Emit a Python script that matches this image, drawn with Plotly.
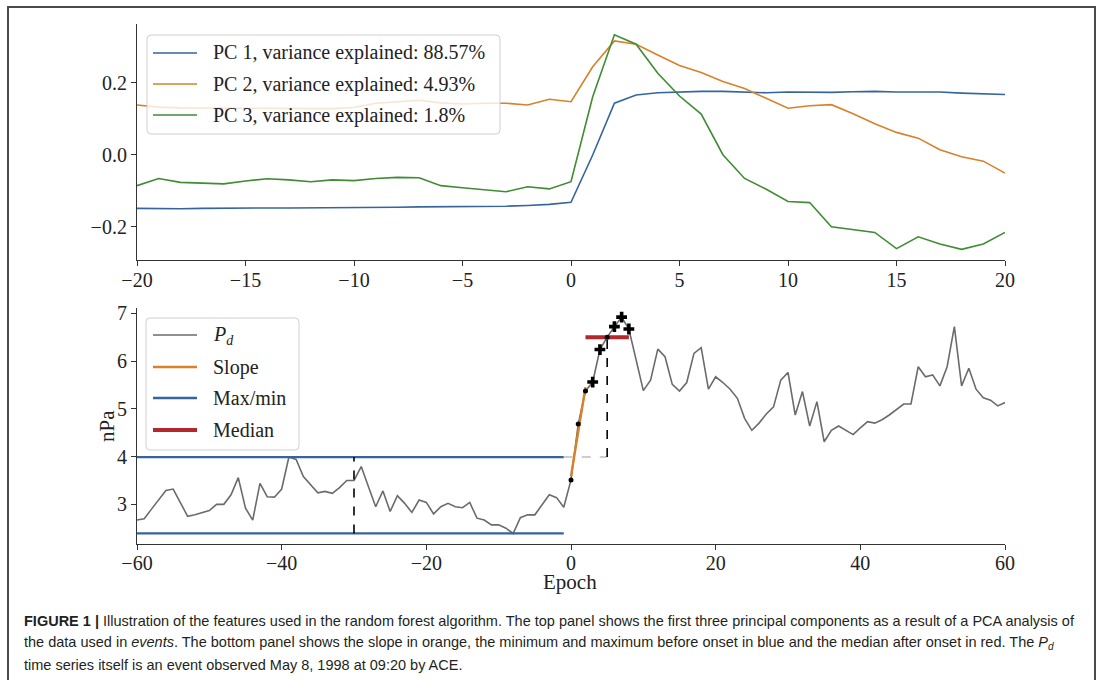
import numpy as np
import plotly.graph_objects as go

# ---------------------------------------------------------------- data
epoch_pc = list(range(-20, 21))
pc1 = [-0.149, -0.150, -0.150, -0.149, -0.148, -0.148, -0.148, -0.148, -0.148, -0.148,
       -0.147, -0.147, -0.146, -0.145, -0.145, -0.145, -0.144, -0.143, -0.141, -0.138,
       -0.132, -0.001, 0.143, 0.166, 0.172, 0.175, 0.176, 0.176, 0.175, 0.172,
       0.174, 0.173, 0.173, 0.175, 0.176, 0.174, 0.175, 0.174, 0.171, 0.168, 0.167]
pc2 = [0.138, 0.132, 0.130, 0.130, 0.130, 0.130, 0.128, 0.130, 0.130, 0.128,
       0.131, 0.143, 0.147, 0.151, 0.144, 0.141, 0.143, 0.143, 0.138, 0.154,
       0.147, 0.244, 0.316, 0.307, 0.277, 0.248, 0.228, 0.203, 0.184, 0.157,
       0.129, 0.136, 0.139, 0.114, 0.086, 0.062, 0.046, 0.014, -0.006, -0.018, -0.051]
pc3 = [-0.086, -0.066, -0.077, -0.080, -0.081, -0.073, -0.067, -0.070, -0.075, -0.070,
       -0.072, -0.066, -0.063, -0.064, -0.086, -0.092, -0.097, -0.103, -0.089, -0.095,
       -0.075, 0.161, 0.333, 0.307, 0.226, 0.163, 0.113, 0.000, -0.066, -0.096,
       -0.130, -0.133, -0.200, -0.209, -0.216, -0.261, -0.228, -0.248, -0.263, -0.248, -0.216]
variance_explained = [88.57, 4.93, 1.8]

epoch_pd = list(range(-60, 61))
pd_values = [
    2.67, 2.70, 2.90, 3.10, 3.29, 3.32, 3.02, 2.75, 2.78, 2.82,   # -60 .. -51
    2.87, 3.00, 3.00, 3.20, 3.56, 2.92, 2.67, 3.44, 3.16, 3.15,   # -50 .. -41
    3.32, 3.99, 3.94, 3.58, 3.40, 3.24, 3.27, 3.23, 3.35, 3.50,   # -40 .. -31
    3.50, 3.79, 3.37, 2.95, 3.28, 2.85, 3.18, 3.02, 2.83, 3.09,   # -30 .. -21
    3.04, 2.80, 2.95, 3.02, 2.95, 2.93, 3.04, 2.71, 2.67, 2.57,   # -20 .. -11
    2.57, 2.50, 2.39, 2.72, 2.78, 2.78, 2.99, 3.20, 3.14, 2.94,   # -10 .. -1
    3.51, 4.68, 5.37, 5.56, 6.24, 6.50, 6.72, 6.92, 6.67, 6.03,   # 0 .. 9
    5.38, 5.60, 6.25, 6.09, 5.51, 5.37, 5.55, 6.16, 6.28, 5.41,   # 10 .. 19
    5.67, 5.55, 5.41, 5.22, 4.80, 4.55, 4.70, 4.89, 5.04, 5.60,   # 20 .. 29
    5.76, 4.87, 5.36, 4.64, 5.15, 4.31, 4.55, 4.64, 4.55, 4.46,   # 30 .. 39
    4.60, 4.73, 4.70, 4.77, 4.87, 4.98, 5.10, 5.10, 5.88, 5.67,   # 40 .. 49
    5.71, 5.48, 5.88, 6.72, 5.48, 5.85, 5.41, 5.23, 5.18, 5.06,   # 50 .. 59
    5.13,                                                         # 60
]

pre_window = (-60, -1)        # epochs before onset (max/min)
slope_epochs = [0, 1, 2]      # epochs used for the onset slope
median_window = (2, 8)        # epochs after onset (median)
dot_epochs = [0, 1, 2, 5]
plus_epochs = [3, 4, 6, 7, 8]
pre_mark = -30
post_mark = 5

# ---------------------------------------------------------------- derived
pd_arr = np.array(pd_values)
ep_arr = np.array(epoch_pd)
pre_mask = (ep_arr >= pre_window[0]) & (ep_arr <= pre_window[1])
pre_max = float(pd_arr[pre_mask].max())
pre_min = float(pd_arr[pre_mask].min())
post_mask = (ep_arr >= median_window[0]) & (ep_arr <= median_window[1])
post_median = float(np.median(pd_arr[post_mask]))
slope_idx = [epoch_pd.index(e) for e in slope_epochs]
k, b = np.polyfit(slope_epochs, pd_arr[slope_idx], 1)
slope_x = [slope_epochs[0], slope_epochs[-1]]
slope_y = [k * x + b for x in slope_x]

# ---------------------------------------------------------------- styling
W, H = 1099, 680
BLUE = "#35659f"
ORANGE = "#d98028"
GREEN = "#3f8c33"
RED = "#b3272d"
GREY = "#6b6b6b"
AXIS = "#333333"
SERIF = "Liberation Serif, Times New Roman, serif"
SANS = "Liberation Sans, Arial, sans-serif"


def px(x):
    return x / W


def py(y):
    return 1 - y / H


fig = go.Figure()

# top panel: principal components
for vals, col in zip([pc1, pc2, pc3], [BLUE, ORANGE, GREEN]):
    fig.add_trace(go.Scatter(x=epoch_pc, y=vals, mode="lines",
                             line=dict(color=col, width=1.6),
                             xaxis="x", yaxis="y", hoverinfo="skip"))

# bottom panel: dynamic pressure and features
fig.add_trace(go.Scatter(x=epoch_pd, y=pd_values, mode="lines",
                         line=dict(color=GREY, width=1.6),
                         xaxis="x2", yaxis="y2"))
for level in (pre_max, pre_min):
    fig.add_trace(go.Scatter(x=list(pre_window), y=[level, level], mode="lines",
                             line=dict(color=BLUE, width=2.2),
                             xaxis="x2", yaxis="y2"))
fig.add_trace(go.Scatter(x=[pre_mark, pre_mark], y=[pre_min, pre_max], mode="lines",
                         line=dict(color="black", width=1.6, dash="dash"),
                         xaxis="x2", yaxis="y2"))
fig.add_trace(go.Scatter(x=[pre_window[1], post_mark], y=[pre_max, pre_max], mode="lines",
                         line=dict(color="#bdbdbd", width=1.6, dash="dash"),
                         xaxis="x2", yaxis="y2"))
fig.add_trace(go.Scatter(x=[post_mark, post_mark], y=[pre_max, post_median], mode="lines",
                         line=dict(color="black", width=1.6, dash="dash"),
                         xaxis="x2", yaxis="y2"))
fig.add_trace(go.Scatter(x=list(median_window), y=[post_median, post_median], mode="lines",
                         line=dict(color=RED, width=4),
                         xaxis="x2", yaxis="y2"))
fig.add_trace(go.Scatter(x=slope_x, y=slope_y, mode="lines",
                         line=dict(color=ORANGE, width=2.4),
                         xaxis="x2", yaxis="y2"))
fig.add_trace(go.Scatter(x=dot_epochs, y=[pd_values[epoch_pd.index(e)] for e in dot_epochs],
                         mode="markers", marker=dict(color="black", size=5),
                         xaxis="x2", yaxis="y2"))
fig.add_trace(go.Scatter(x=plus_epochs, y=[pd_values[epoch_pd.index(e)] for e in plus_epochs],
                         mode="markers", marker=dict(color="black", size=9, symbol="cross"),
                         xaxis="x2", yaxis="y2"))

axis_common = dict(showgrid=False, zeroline=False, showline=True, linecolor=AXIS,
                   linewidth=1.2, ticks="outside", ticklen=5, tickwidth=1.2,
                   automargin=False, tickcolor=AXIS,
                   tickfont=dict(family=SERIF, size=20, color="#222222"))

fig.update_layout(
    width=W, height=H, margin=dict(l=0, r=0, t=0, b=0),
    paper_bgcolor="white", plot_bgcolor="white", showlegend=False,
    xaxis=dict(domain=[px(137), px(1005)], range=[-20, 20], tickvals=list(range(-20, 21, 5)),
               anchor="y", ticklabelstandoff=-3, **axis_common),
    yaxis=dict(domain=[py(260), py(24)], range=[-0.2925, 0.363], tickvals=[-0.2, 0.0, 0.2],
               tickformat=".1f", anchor="x", **axis_common),
    xaxis2=dict(domain=[px(137), px(1005)], range=[-60, 60], tickvals=list(range(-60, 61, 20)),
                anchor="y2", ticklabelstandoff=-4, **axis_common),
    yaxis2=dict(domain=[py(543.5), py(308)], range=[2.18, 7.11], tickvals=[3, 4, 5, 6, 7],
                anchor="x2", **axis_common),
)

shapes = []
annotations = []


def legend_box(x0, y0, x1, y1, r=4):
    rx, ry = r / W, r / H
    X0, X1 = px(x0), px(x1)
    Y0, Y1 = py(y0), py(y1)
    path = (f"M{X0 + rx},{Y0} L{X1 - rx},{Y0} Q{X1},{Y0} {X1},{Y0 - ry} "
            f"L{X1},{Y1 + ry} Q{X1},{Y1} {X1 - rx},{Y1} L{X0 + rx},{Y1} "
            f"Q{X0},{Y1} {X0},{Y1 + ry} L{X0},{Y0 - ry} Q{X0},{Y0} {X0 + rx},{Y0} Z")
    shapes.append(dict(type="path", path=path, xref="paper", yref="paper", layer="above",
                       fillcolor="rgba(255,255,255,0.8)",
                       line=dict(color="#d0d0d0", width=1)))


def legend_row(y, color, width, label):
    shapes.append(dict(type="line", xref="paper", yref="paper", layer="above",
                       x0=px(153), x1=px(197), y0=py(y), y1=py(y),
                       line=dict(color=color, width=width)))
    annotations.append(dict(x=px(211), y=py(y), xref="paper", yref="paper",
                            xanchor="left", yanchor="middle", showarrow=False, text=label,
                            font=dict(family=SERIF, size=20, color="#222222")))


# legend of the top panel
legend_box(147, 35, 500, 134)
for i, (y, col) in enumerate(zip([53, 84, 115], [BLUE, ORANGE, GREEN])):
    legend_row(y, col, 1.6, f"PC {i + 1}, variance explained: {variance_explained[i]}%")

# legend of the bottom panel
legend_box(146, 318, 299, 450)
legend_row(335, GREY, 1.6, "<i>P</i><sub><i>d</i></sub>")
legend_row(367, ORANGE, 2.4, "Slope")
legend_row(398, BLUE, 2.4, "Max/min")
legend_row(430, RED, 4, "Median")

# axis titles
annotations.append(dict(x=px(570), y=py(582), xref="paper", yref="paper", showarrow=False,
                        xanchor="center", yanchor="middle", text="Epoch",
                        font=dict(family=SERIF, size=21, color="#222222")))
annotations.append(dict(x=px(107), y=py(426), xref="paper", yref="paper", showarrow=False,
                        xanchor="center", yanchor="middle", text="nPa", textangle=-90,
                        font=dict(family=SERIF, size=21, color="#222222")))

# caption
caption = [
    "<b>FIGURE 1 |</b> Illustration of the features used in the random forest algorithm. "
    "The top panel shows the first three principal components as a result of a PCA analysis of",
    "the data used in <i>events</i>. The bottom panel shows the slope in orange, the minimum and "
    "maximum before onset in blue and the median after onset in red. The <i>P<sub>d</sub></i>",
    "time series itself is an event observed May 8, 1998 at 09:20 by ACE.",
]
for line, y in zip(caption, [621, 643, 665]):
    annotations.append(dict(x=px(22), y=py(y), xref="paper", yref="paper", showarrow=False,
                            xanchor="left", yanchor="middle", text=line,
                            font=dict(family=SANS, size=14.5, color="#231f20")))

# figure frame
shapes.append(dict(type="rect", xref="paper", yref="paper", layer="above",
                   x0=px(8), x1=px(1095), y0=-0.05, y1=py(7),
                   line=dict(color="#4a4a4a", width=2), fillcolor="rgba(0,0,0,0)"))

fig.update_layout(shapes=shapes, annotations=annotations)
fig.write_html("out.html")
